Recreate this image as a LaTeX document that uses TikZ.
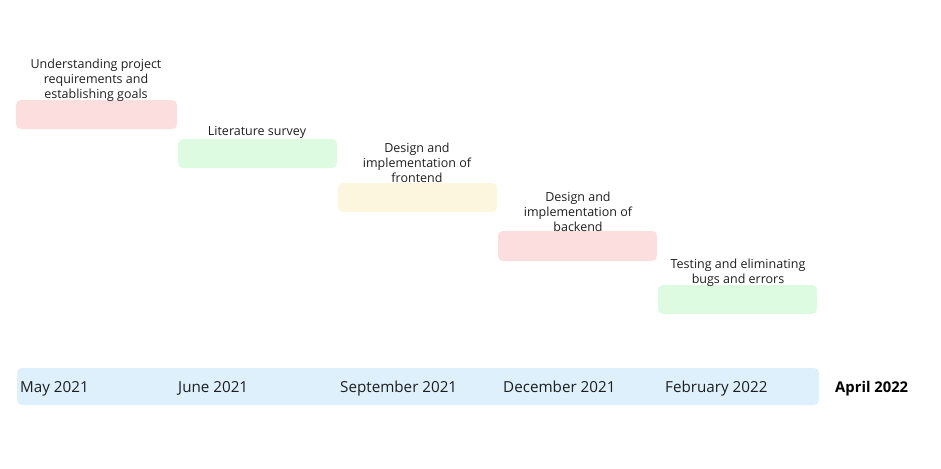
\documentclass[tikz,border=0pt]{standalone}
\usepackage{fontspec}
\setmainfont{Open Sans}
\definecolor{pinkbar}{HTML}{FDDEDF}
\definecolor{greenbar}{HTML}{DDFBE0}
\definecolor{yellowbar}{HTML}{FDF6DF}
\definecolor{bluebar}{HTML}{DDF0FC}
\definecolor{txt}{HTML}{1E1E1E}
\begin{document}
\begin{tikzpicture}[x=1pt,y=-1pt,
  bar/.style={rounded corners=5pt},
  task/.style={align=center,font=\fontsize{12.5}{15}\selectfont,text=txt,inner sep=0pt},
  date/.style={anchor=base west,font=\fontsize{15.2}{17}\selectfont,text=txt,inner sep=0pt}]
\useasboundingbox (0,0) rectangle (941,468);
\fill[bar,pinkbar] (16,100) rectangle (177,129);
\fill[bar,greenbar] (178,139) rectangle (337,168);
\fill[bar,yellowbar] (338,183) rectangle (497,212);
\fill[bar,pinkbar] (498,231) rectangle (657,261);
\fill[bar,greenbar] (658,285) rectangle (817,314);
\fill[bar,bluebar] (17,368) rectangle (819,405);
\node[task] (t1) at (96,80) {Understanding project\\requirements and\\establishing goals};
\node[task] (t2) at (257,132) {Literature survey};
\node[task] (t3) at (417,163) {Design and\\implementation of\\frontend};
\node[task] (t4) at (578,212) {Design and\\implementation of\\backend};
\node[task] (t5) at (738,272.5) {Testing and eliminating\\bugs and errors};
\node[date] (d1) at (20,392.5) {May 2021};
\node[date] (d2) at (178,392.5) {June 2021};
\node[date] (d3) at (340,392.5) {September 2021};
\node[date] (d4) at (503,392.5) {December 2021};
\node[date] (d5) at (665,392.5) {February 2022};
\node[date,font=\fontsize{14.8}{17}\selectfont\bfseries,text=black] (d6) at (835,392.5) {April 2022};
\end{tikzpicture}
\end{document}
